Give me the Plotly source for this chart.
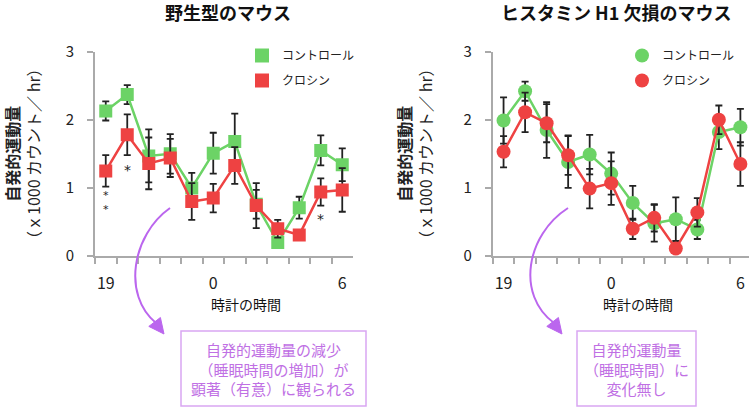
import plotly.graph_objects as go

W, H = 750, 408
FONT = "Noto Sans CJK JP"
GREEN = "#6cd366"
RED = "#ee4242"
PURPLE = "#bb66ee"
BOXTXT = "#c070e4"

# ---- data ----
hours = ["19", "20", "21", "22", "23", "0", "1", "2", "3", "4", "5", "6"]
x_idx = list(range(len(hours)))
tick_show = ["19", "0", "6"]

wt_ctrl = [2.13, 2.37, 1.47, 1.50, 1.00, 1.51, 1.68, 0.76, 0.20, 0.71, 1.55, 1.34]
wt_ctrl_err = [0.14, 0.14, 0.39, 0.29, 0.22, 0.30, 0.41, 0.21, 0.05, 0.16, 0.22, 0.24]
wt_cro = [1.25, 1.78, 1.36, 1.44, 0.80, 0.85, 1.33, 0.74, 0.40, 0.31, 0.94, 0.97]
wt_cro_err = [0.23, 0.30, 0.38, 0.28, 0.27, 0.21, 0.27, 0.33, 0.13, 0.03, 0.20, 0.32]

ko_ctrl = [1.99, 2.42, 1.85, 1.38, 1.49, 1.21, 0.78, 0.48, 0.54, 0.39, 1.82, 1.89]
ko_ctrl_err = [0.34, 0.14, 0.41, 0.38, 0.29, 0.31, 0.25, 0.27, 0.32, 0.14, 0.25, 0.27]
ko_cro = [1.53, 2.11, 1.95, 1.48, 0.99, 1.07, 0.40, 0.56, 0.11, 0.64, 2.00, 1.35]
ko_cro_err = [0.23, 0.29, 0.28, 0.29, 0.29, 0.32, 0.15, 0.20, 0.05, 0.21, 0.21, 0.32]

sig_marks = [(0, 0.78, "*<br>*", 11), (1, 1.26, "*", 14), (10, 0.55, "*", 14)]

names = ["コントロール", "クロシン"]


def px(x):
    return x / W


def py(y):
    return 1 - y / H


fig = go.Figure()


def add_series(xa, ya, yvals, errs, color, symbol, size):
    fig.add_trace(go.Scatter(
        x=x_idx, y=yvals, xaxis=xa, yaxis=ya, mode="lines+markers",
        line=dict(color=color, width=2.5),
        marker=dict(color=color, symbol=symbol, size=size),
        error_y=dict(type="data", array=errs, visible=True, color="#222222",
                     thickness=1.8, width=3.5),
        showlegend=False, hoverinfo="skip"))


add_series("x", "y", wt_ctrl, wt_ctrl_err, GREEN, "square", 13)
add_series("x", "y", wt_cro, wt_cro_err, RED, "square", 13)
add_series("x2", "y2", ko_ctrl, ko_ctrl_err, GREEN, "circle", 14)
add_series("x2", "y2", ko_cro, ko_cro_err, RED, "circle", 14)

# legend-only traces
for nm, col in zip(names, [GREEN, RED]):
    fig.add_trace(go.Scatter(x=[None], y=[None], mode="markers", name=nm,
                             marker=dict(color=col, symbol="square", size=14),
                             xaxis="x", yaxis="y", legend="legend",
                             legendgroup="a" + nm))
for nm, col in zip(names, [GREEN, RED]):
    fig.add_trace(go.Scatter(x=[None], y=[None], mode="markers", name=nm,
                             marker=dict(color=col, symbol="circle", size=14),
                             xaxis="x2", yaxis="y2", legend="legend2",
                             legendgroup="b" + nm))

ydom = [py(256), py(51.7)]
xaxis_common = dict(
    showgrid=False, zeroline=False, showline=True, linecolor="#aaaaaa",
    linewidth=2, tickmode="array", tickvals=[0, 5, 11], ticktext=tick_show,
    ticks="outside", ticklen=0, tickcolor="#aaaaaa", automargin=False,
    ticklabelstandoff=12,
    tickfont=dict(family=FONT, size=16, color="#222222"),
    minor=dict(tickmode="array", tickvals=[i - 0.5 for i in x_idx],
               ticks="outside", ticklen=6, tickwidth=1.5, tickcolor="#aaaaaa"),
)
yaxis_common = dict(
    showgrid=False, zeroline=False, showline=True, linecolor="#aaaaaa",
    linewidth=2, range=[0, 3], tickvals=[0, 1, 2, 3], ticks="outside",
    ticklen=6, tickwidth=1.5, tickcolor="#aaaaaa", ticklabelstandoff=10,
    automargin=False,
    tickfont=dict(family=FONT, size=15, color="#222222"), domain=ydom,
)

leg_common = dict(xanchor="left", yanchor="top",
                  font=dict(family=FONT, size=12, color="#222222"),
                  bgcolor="rgba(0,0,0,0)", itemsizing="trace", tracegroupgap=6,
                  traceorder="grouped", itemwidth=30)

fig.update_layout(
    width=W, height=H, margin=dict(l=0, r=0, t=0, b=0, autoexpand=False),
    paper_bgcolor="white", plot_bgcolor="white",
    font=dict(family=FONT, color="#222222"),
    xaxis=dict(xaxis_common, domain=[px(95), px(353)], range=[-0.5, 11.5], anchor="y"),
    yaxis=dict(yaxis_common, anchor="x"),
    xaxis2=dict(xaxis_common, domain=[px(492.8), px(749)], range=[-0.5, 11.4], anchor="y2"),
    yaxis2=dict(yaxis_common, anchor="x2"),
    legend=dict(leg_common, x=px(242), y=py(41)),
    legend2=dict(leg_common, x=px(622), y=py(41)),
)

ann = []


def pa(x, y, text, size, color, **kw):
    d = dict(x=px(x), y=py(y), text=text, showarrow=False, xref="paper", yref="paper",
             xanchor="center", yanchor="middle", font=dict(family=FONT, size=size, color=color))
    d.update(kw)
    ann.append(d)


# titles
pa(228, 12, "<b>野生型のマウス</b>", 18, "#111111")
pa(616, 12, "<b>ヒスタミン H1 欠損のマウス</b>", 18, "#111111")
# y titles
ytitle = "<b>自発的運動量</b><br>（ｘ1000 カウント／ hr）"
for cx in [22, 414]:
    pa(cx, 154, ytitle, 16, "#222222", textangle=-90)
# x titles
for cx in [246, 637.5]:
    pa(cx, 304, "時計の時間", 14, "#111111")
# significance
for xi, yv, t, fs in sig_marks:
    ann.append(dict(x=xi, y=yv, text=t, showarrow=False, xref="x", yref="y",
                    xanchor="center", yanchor="middle",
                    font=dict(family="DejaVu Sans", size=fs, color="#222222")))
# boxes text
pa(273.5, 369, "自発的運動量の減少<br>（睡眠時間の増加）が<br>顕著（有意）に観られる", 15, BOXTXT)
pa(636.5, 369, "自発的運動量<br>（睡眠時間）に<br>変化無し", 15, BOXTXT)
fig.update_layout(annotations=ann)

shapes = []
for (x0, x1) in [(181, 366), (577, 696)]:
    shapes.append(dict(type="rect", xref="paper", yref="paper",
                       x0=px(x0), x1=px(x1), y0=py(406), y1=py(331),
                       line=dict(color="#d9a6f2", width=1.5)))


def P(x, y):
    return f"{px(x):.5f},{py(y):.5f}"


for dx, wide in [(0, 0), (398, 4)]:
    sx, sy = 170 + dx, 208
    c1 = (132 + dx - wide, 235)
    c2 = (122 + dx - wide, 295)
    e = (156 + dx, 323)
    path = f"M{P(sx, sy)} C{P(*c1)} {P(*c2)} {P(*e)}"
    shapes.append(dict(type="path", xref="paper", yref="paper", path=path,
                       line=dict(color=PURPLE, width=2)))
    head = f"M{P(164 + dx, 334)} L{P(160.4 + dx, 317.5)} L{P(148.8 + dx, 326.4)} Z"
    shapes.append(dict(type="path", xref="paper", yref="paper", path=head,
                       fillcolor=PURPLE, line=dict(color=PURPLE, width=1)))
fig.update_layout(shapes=shapes)

fig.write_html("out.html")
